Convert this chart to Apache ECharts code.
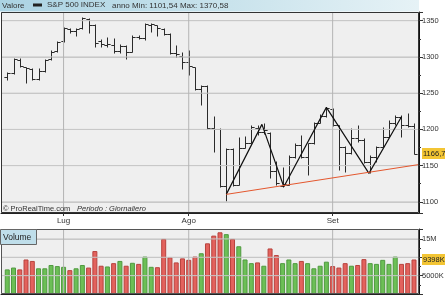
<!DOCTYPE html>
<html><head><meta charset="utf-8">
<script src="https://cdn.jsdelivr.net/npm/echarts@6/dist/echarts.min.js"></script>
<style>html,body{margin:0;padding:0;background:#fff}#c{width:445px;height:302px}</style>
</head><body><div id="c"></div>
<script>
const dates = [
 '2011-06-20','2011-06-21','2011-06-22','2011-06-23','2011-06-24','2011-06-27','2011-06-28','2011-06-29','2011-06-30',
 '2011-07-01','2011-07-05','2011-07-06','2011-07-07','2011-07-08','2011-07-11','2011-07-12','2011-07-13','2011-07-14','2011-07-15',
 '2011-07-18','2011-07-19','2011-07-20','2011-07-21','2011-07-22','2011-07-25','2011-07-26','2011-07-27','2011-07-28','2011-07-29',
 '2011-08-01','2011-08-02','2011-08-03','2011-08-04','2011-08-05','2011-08-08','2011-08-09','2011-08-10','2011-08-11','2011-08-12',
 '2011-08-15','2011-08-16','2011-08-17','2011-08-18','2011-08-19','2011-08-22','2011-08-23','2011-08-24','2011-08-25','2011-08-26',
 '2011-08-29','2011-08-30','2011-08-31',
 '2011-09-01','2011-09-02','2011-09-06','2011-09-07','2011-09-08','2011-09-09','2011-09-12','2011-09-13','2011-09-14','2011-09-15',
 '2011-09-16','2011-09-19','2011-09-20','2011-09-21'];
const monthNames = ['Gen','Feb','Mar','Apr','Mag','Giu','Lug','Ago','Set','Ott','Nov','Dic'];
const opens = [1272,1278,1296,1285.6,1283.7,1269.0,1280.5,1296.6,1308.1,1321.9,1338.5,1336.2,1339.4,1351.8,1344.0,1321.9,1316.4,1316.4,1308.1,1315.0,1307.2,1327.9,1325.6,1344.0,1344.0,1338.5,1331.6,1305.8,1301.2,1293.4,1286.5,1255.2,1260.3,1201.4,1200.0,1121.8,1172.4,1123.2,1173.8,1180.7,1201.4,1196.8,1195.4,1143.0,1121.8,1123.2,1162.3,1178.4,1162.3,1180.7,1208.3,1218.4,1227.6,1206.0,1176.1,1166.9,1187.6,1185.3,1155.4,1162.3,1176.1,1189.9,1209.2,1216.6,1206.0,1204.6];
const highs = [1279,1298,1298.5,1286.5,1285.1,1284.2,1297.5,1309.5,1321.9,1341.7,1340.3,1339.4,1355.5,1353.2,1344.9,1324.2,1327.9,1325.6,1317.3,1316.4,1330.2,1330.2,1347.2,1347.2,1344.0,1339.4,1332.5,1316.4,1307.2,1309.5,1286.5,1261.2,1261.2,1218.4,1201.4,1173.8,1173.8,1189.9,1190.8,1206.0,1206.0,1208.3,1196.8,1156.8,1148.5,1164.6,1180.7,1192.2,1181.5,1210.6,1221.2,1231.3,1229.9,1206.0,1177.0,1201.4,1206.0,1187.6,1164.6,1177.0,1203.7,1212.9,1219.8,1219.8,1222.1,1208.3];
const lows = [1268.1,1277,1286.5,1263.5,1268.1,1268.1,1279.6,1295.7,1307.2,1321.0,1333.4,1328.8,1338.5,1332.5,1313.2,1313.2,1314.1,1305.8,1305.8,1296.6,1307.2,1324.2,1322.8,1335.0,1328.8,1330.2,1304.0,1300.3,1283.3,1275.0,1254.3,1233.6,1200.0,1169.2,1120.0,1101.54,1121.8,1123.2,1173.8,1180.7,1192.2,1193.6,1132.4,1123.2,1120.0,1123.2,1160.0,1160.0,1137.0,1179.8,1208.3,1217.5,1204.6,1143.9,1141.6,1166.0,1183.0,1153.1,1139.3,1155.4,1175.2,1189.0,1206.0,1189.9,1203.7,1166.7];
const closes = [1278,1296.6,1287.4,1284.2,1269.0,1281.0,1295.7,1307.2,1321.0,1339.4,1336.2,1338.5,1353.2,1344.0,1319.6,1317.3,1318.0,1308.6,1315.0,1307.2,1327.9,1325.6,1345.4,1344.9,1339.4,1331.6,1305.8,1304.0,1293.4,1287.4,1255.2,1260.3,1201.4,1200.0,1121.8,1172.4,1123.2,1173.8,1180.7,1203.7,1196.8,1199.1,1143.0,1125.5,1124.5,1162.3,1178.4,1162.3,1180.7,1208.3,1218.4,1229.0,1206.0,1176.1,1166.9,1187.6,1185.3,1155.4,1162.3,1176.1,1189.9,1209.2,1216.6,1206.0,1204.6,1166.7];
const volumes = [6700,7200,6700,9400,9000,7000,7000,7900,7600,7400,6500,7000,7900,7200,11700,7700,7500,8400,9000,7700,8500,8200,10200,7400,7300,15000,10000,8600,9700,9300,10200,11100,13800,15900,16800,16300,15000,13000,9400,8400,8600,7700,12400,10600,8400,9400,8400,9000,8400,7000,7700,8800,7600,7200,8400,7700,7900,9500,8400,8200,9300,8200,10200,8200,8400,9398];
const priceTicks = [1100,1150,1200,1250,1300,1350];
const volumeTicks = [5000,15000];
const volumeGrid = [5000,10000,15000];
const seriesName = 'S&P 500 INDEX';
const yearMin = '1101,54', yearMax = '1370,58';
const zigzag = [[35,1110.3],[40.7,1206.9],[44.2,1120.9],[51.0,1230.4],[57.8,1139.3],[63.0,1217.5]];
const support = [[35,1110.3],[65.8,1151.5]];

const X_MIN = -1, X_MAX = 65.8, P_MIN = 1084.6, P_MAX = 1362, V_MAX = 17700;
const FONT = 'Liberation Sans, Arial, sans-serif';
const monthIdx = [];
dates.forEach((d, i) => { if (i > 0 && d.slice(5,7) !== dates[i-1].slice(5,7)) monthIdx.push(i); });
const lastClose = closes[closes.length-1];
const lastVol = volumes[volumes.length-1];
const ohlc = dates.map((d, i) => [i, opens[i], highs[i], lows[i], closes[i]]);
const fmt = v => v.toFixed(1).replace('.', ',');

function gridSeries(axisIdx, hValues, yMin, yMax) {
  const out = [];
  hValues.forEach(v => out.push({type:'line', xAxisIndex:axisIdx, yAxisIndex:axisIdx, z:3, silent:true, showSymbol:false,
    data:[[X_MIN, v], [X_MAX, v]], lineStyle:{color:'#c8c8c8', width:1}}));
  monthIdx.forEach(i => out.push({type:'line', xAxisIndex:axisIdx, yAxisIndex:axisIdx, z:3, silent:true, showSymbol:false,
    data:[[i, yMin], [i, yMax]], lineStyle:{color:'#b4b4b4', width:1}}));
  return out;
}

const chart = echarts.init(document.getElementById('c'), null, {renderer:'canvas'});
chart.setOption({
  animation:false,
  backgroundColor:'#ffffff',
  textStyle:{fontFamily:FONT},
  legend:{data:[seriesName], left:33, top:1, padding:0, itemWidth:9, itemHeight:3, icon:'rect',
    textStyle:{fontSize:8, color:'#333', fontFamily:FONT}, selectedMode:false},
  grid:[
    {left:1, top:12, width:418, height:201, show:false, outerBoundsMode:'none', containLabel:false},
    {left:1, top:229, width:418, height:65, show:false, outerBoundsMode:'none', containLabel:false}
  ],
  xAxis:[
    {type:'value', gridIndex:0, min:X_MIN, max:X_MAX, splitLine:{show:false},
     axisLine:{show:true, onZero:false, lineStyle:{color:'#222'}},
     axisTick:{show:true, customValues:monthIdx, length:3, lineStyle:{color:'#333'}},
     axisLabel:{customValues:monthIdx, formatter:v => monthNames[+dates[Math.round(v)].slice(5,7)-1],
       fontSize:8, color:'#333', margin:4, fontFamily:FONT}},
    {type:'value', gridIndex:1, min:X_MIN, max:X_MAX, splitLine:{show:false},
     axisLine:{show:true, onZero:false, lineStyle:{color:'#222'}}, axisTick:{show:false}, axisLabel:{show:false}}
  ],
  yAxis:[
    {type:'value', gridIndex:0, position:'right', min:P_MIN, max:P_MAX, splitNumber:5,
     splitLine:{show:true, lineStyle:{color:'#c8c8c8', width:1}},
     axisLine:{show:true, onZero:false, lineStyle:{color:'#111'}},
     axisTick:{show:true, length:4, lineStyle:{color:'#333'}},
     minorTick:{show:true, splitNumber:2, length:2, lineStyle:{color:'#333'}},
     axisLabel:{customValues:priceTicks.concat([lastClose]), fontSize:7.5, color:'#333', margin:3, fontFamily:FONT,
       formatter:v => v === lastClose ? '{hl|' + fmt(v) + '}' : String(v),
       rich:{hl:{backgroundColor:'#f3c534', color:'#222', fontSize:7.5, padding:[2,4,1,1], fontFamily:FONT}}}},
    {type:'value', gridIndex:1, position:'right', min:0, max:V_MAX, splitNumber:3,
     splitLine:{show:true, lineStyle:{color:'#c8c8c8', width:1}},
     axisLine:{show:true, onZero:false, lineStyle:{color:'#111'}},
     axisTick:{show:true, length:4, lineStyle:{color:'#333'}},
     minorTick:{show:true, splitNumber:2, length:2, lineStyle:{color:'#333'}},
     axisLabel:{customValues:volumeTicks.concat([lastVol]), fontSize:7.5, color:'#333', margin:3, fontFamily:FONT,
       formatter:v => v === lastVol ? '{hl|' + v + 'K}' : (v >= 10000 ? (v/1000) + 'M' : v + 'K'),
       rich:{hl:{backgroundColor:'#f3c534', color:'#222', fontSize:7.5, padding:[2,4,1,1], fontFamily:FONT}}}}
  ],
  graphic:[
    {type:'rect', z:-10, silent:true, shape:{x:1, y:12, width:418, height:201}, style:{fill:'#efefef'}},
    {type:'rect', z:-10, silent:true, shape:{x:1, y:229, width:418, height:65}, style:{fill:'#efefef'}},
    {type:'rect', z:20, silent:true, shape:{x:1.5, y:12.5, width:417, height:200}, style:{fill:null, stroke:'#333', lineWidth:1}},
    {type:'rect', z:20, silent:true, shape:{x:1.5, y:229.5, width:417, height:64}, style:{fill:null, stroke:'#555', lineWidth:1}},
    {type:'rect', z:0, shape:{x:0, y:0, width:419, height:11.5},
     style:{fill:new echarts.graphic.LinearGradient(0,0,1,0,[{offset:0,color:'#abd3e3'},{offset:0.55,color:'#c9e3ec'},{offset:1,color:'#e6f2f6'}])}},
    {type:'text', z:5, x:2, y:6, style:{text:'Valore', font:'8px ' + FONT, fill:'#333', verticalAlign:'middle'}},
    {type:'text', z:5, x:112, y:6, style:{text:'anno Min: ' + yearMin + ' Max: ' + yearMax, font:'8px ' + FONT, fill:'#333', verticalAlign:'middle'}},
    {type:'text', z:5, x:3, y:209, style:{text:'{a|© ProRealTime.com}  {b|Periodo : Giornaliero}', verticalAlign:'middle',
      rich:{a:{fontSize:7.5, fill:'#333', fontFamily:FONT}, b:{fontSize:7.5, fill:'#333', fontStyle:'italic', fontFamily:FONT}}}},
    {type:'rect', z:21, shape:{x:0.5, y:229.5, width:36, height:15}, style:{fill:'#bfdeea', stroke:'#666', lineWidth:1}},
    {type:'text', z:22, x:3, y:237.5, style:{text:'Volume', font:'8.5px ' + FONT, fill:'#222', verticalAlign:'middle'}}
  ],
  series: gridSeries(0, priceTicks, P_MIN, P_MAX).concat(gridSeries(1, volumeGrid, 0, V_MAX)).concat([
    {type:'custom', name:seriesName, xAxisIndex:0, yAxisIndex:0, z:3, itemStyle:{color:'#222'},
     encode:{x:0, y:[1,2,3,4]}, data:ohlc,
     renderItem:function (params, api) {
       const i = api.value(0);
       const o = api.coord([i, api.value(1)]);
       const h = api.coord([i, api.value(2)]);
       const l = api.coord([i, api.value(3)]);
       const c = api.coord([i, api.value(4)]);
       const w = api.size([1, 0])[0] * 0.5;
       const x = Math.round(o[0]) + 0.5;
       const st = {stroke:'#2a2a2a', lineWidth:1};
       const ry = y => Math.round(y) + 0.5;
       return {type:'group', children:[
         {type:'line', shape:{x1:x, y1:ry(h[1]), x2:x, y2:ry(l[1])}, style:st},
         {type:'line', shape:{x1:x - w, y1:ry(o[1]), x2:x, y2:ry(o[1])}, style:st},
         {type:'line', shape:{x1:x, y1:ry(c[1]), x2:x + w, y2:ry(c[1])}, style:st}
       ]};
     }},
    {type:'line', name:'zigzag', xAxisIndex:0, yAxisIndex:0, z:4, data:zigzag, showSymbol:false, silent:true,
     lineStyle:{color:'#111', width:1.2}},
    {type:'line', name:'support', xAxisIndex:0, yAxisIndex:0, z:4, data:support, showSymbol:false, silent:true,
     lineStyle:{color:'#e4572e', width:1}},
    {type:'bar', name:'Volume', xAxisIndex:1, yAxisIndex:1, z:3, barWidth:5,
     data:volumes.map((v, i) => {
       const up = closes[i] >= opens[i];
       return {value:[i, v], itemStyle:{color: up ? '#6cbf56' : '#e3625d', borderColor: up ? '#4f9a3f' : '#b8423d', borderWidth:1}};
     })}
  ])
});
</script>
</body></html>
